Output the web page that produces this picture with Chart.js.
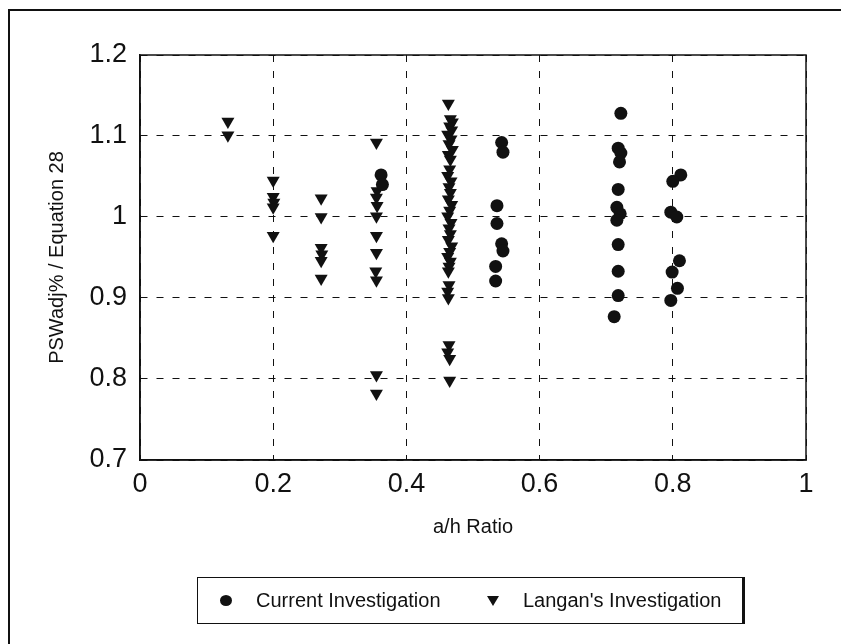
<!DOCTYPE html>
<html>
<head>
<meta charset="utf-8">
<script src="https://cdn.jsdelivr.net/npm/chart.js@4/dist/chart.umd.min.js"></script>
<style>
    body { margin: 0; background: #fff; }
    #quadro { position: relative; width: 841px; height: 644px; overflow: hidden; background: #fff; }
    #moldura { position: absolute; left: 8px; top: 9px; width: 900px; height: 700px; border-left: 2px solid #111; border-top: 2px solid #111; }
    #grafico { position: absolute; left: 0; top: 0; }
    #legenda {
        position: absolute; left: 197px; top: 577px; width: 544px; height: 45px;
        border: 1.5px solid #111; border-right-width: 3px;
        font-family: "Liberation Sans", Arial, sans-serif; font-size: 20px; color: #111;
    }
    .item { position: absolute; top: 0; height: 45px; line-height: 45px; }
    .bola { position: absolute; width: 12px; height: 11px; border-radius: 50%; background: #111; top: 17px; }
    .tri { position: absolute; width: 0; height: 0; top: 18px; border-left: 6px solid transparent; border-right: 6px solid transparent; border-top: 10px solid #111; }
</style>
</head>
<body>
<div id="quadro">
    <div id="moldura"></div>
    <canvas id="grafico" width="841" height="644"></canvas>
    <div id="legenda">
        <div class="bola" style="left: 22px"></div>
        <div class="item" style="left: 58px">Current Investigation</div>
        <div class="tri" style="left: 289px"></div>
        <div class="item" style="left: 325px">Langan's Investigation</div>
    </div>
</div>
<script>
// Pontos da investigação atual (círculos)
const currentX = [0.362, 0.364,
    0.543, 0.545, 0.536, 0.536, 0.543, 0.545, 0.534, 0.534,
    0.722, 0.718, 0.722, 0.720, 0.718, 0.716, 0.721, 0.716, 0.718, 0.718, 0.718, 0.712,
    0.812, 0.800, 0.797, 0.806, 0.810, 0.799, 0.807, 0.797]
const currentY = [1.052, 1.040,
    1.092, 1.080, 1.014, 0.992, 0.967, 0.958, 0.939, 0.921,
    1.128, 1.085, 1.079, 1.068, 1.034, 1.012, 1.004, 0.996, 0.966, 0.933, 0.903, 0.877,
    1.052, 1.044, 1.006, 1.000, 0.946, 0.932, 0.912, 0.897]

// Pontos da investigação de Langan (triângulos)
const langanX = [0.132, 0.132,
    0.200, 0.200, 0.201, 0.200, 0.200,
    0.272, 0.272, 0.272, 0.273, 0.272, 0.272,
    0.355, 0.356, 0.355, 0.356, 0.355, 0.355, 0.355, 0.354, 0.355, 0.355, 0.355,
    0.463, 0.466, 0.469, 0.465, 0.468, 0.462, 0.467, 0.464, 0.469, 0.463, 0.466,
    0.465, 0.462, 0.467, 0.464, 0.466, 0.463, 0.468, 0.465, 0.462, 0.467, 0.464, 0.466, 0.463, 0.468, 0.465, 0.462, 0.466, 0.464, 0.463,
    0.464, 0.462, 0.463,
    0.464, 0.462, 0.465, 0.465]
const langanY = [1.118, 1.101,
    1.045, 1.025, 1.018, 1.012, 0.977,
    1.023, 1.000, 0.962, 0.954, 0.946, 0.924,
    1.092, 1.032, 1.024, 1.014, 1.001, 0.977, 0.956, 0.933, 0.922, 0.805, 0.782,
    1.140, 1.121, 1.117, 1.112, 1.107, 1.102, 1.096, 1.090, 1.083, 1.077, 1.071,
    1.059, 1.051, 1.044, 1.037, 1.030, 1.022, 1.015, 1.008, 1.001, 0.993, 0.986, 0.979, 0.972, 0.964, 0.957, 0.951, 0.945, 0.939, 0.933,
    0.916, 0.908, 0.900,
    0.842, 0.833, 0.825, 0.798]

// Rótulos dos eixos
const xTicks = [0, 0.2, 0.4, 0.6, 0.8, 1]
const yTicks = [0.7, 0.8, 0.9, 1, 1.1, 1.2]
const tituloX = "a/h Ratio"
const tituloY = "PSWadj% / Equation 28"

const fonte = '"Liberation Sans", Arial, sans-serif'

// Junta x e y em objetos para o gráfico de dispersão
function juntaPontos(xs, ys) {
    let pontos = []
    for (let i = 0; i < xs.length; i++) {
        pontos.push({ x: xs[i], y: ys[i] })
    }
    return pontos
}

// Desenha a borda sólida em volta da área do gráfico
const bordaArea = {
    id: 'bordaArea',
    afterDraw(chart) {
        const { ctx, chartArea } = chart
        ctx.save()
        ctx.strokeStyle = '#111'
        ctx.lineWidth = 1.5
        ctx.strokeRect(chartArea.left, chartArea.top, chartArea.right - chartArea.left, chartArea.bottom - chartArea.top)
        ctx.restore()
    }
}

const config = {
    type: 'scatter',
    data: {
        datasets: [{
            label: 'Current Investigation',
            data: juntaPontos(currentX, currentY),
            pointStyle: 'circle',
            pointRadius: 6.5,
            backgroundColor: '#111',
            borderColor: '#111',
            borderWidth: 0
        }, {
            label: "Langan's Investigation",
            data: juntaPontos(langanX, langanY),
            pointStyle: 'triangle',
            rotation: 180,
            pointRadius: 7.5,
            backgroundColor: '#111',
            borderColor: '#111',
            borderWidth: 0
        }]
    },
    options: {
        responsive: false,
        animation: false,
        devicePixelRatio: 1,
        layout: { padding: { top: 55, right: 35, bottom: 100, left: 0 } },
        plugins: {
            legend: { display: false },
            tooltip: { enabled: false }
        },
        scales: {
            x: {
                type: 'linear',
                min: xTicks[0],
                max: xTicks[xTicks.length - 1],
                afterBuildTicks: (scale) => { scale.ticks = xTicks.map(v => ({ value: v })) },
                afterFit: (scale) => { scale.height = 84 },
                ticks: {
                    color: '#111',
                    padding: 8,
                    font: { family: fonte, size: 27 },
                    callback: (v) => String(+v.toFixed(1))
                },
                grid: { color: '#111', lineWidth: 1, drawTicks: false },
                border: { color: '#111', width: 1.5, dash: [7, 9] },
                title: {
                    display: true,
                    text: tituloX,
                    color: '#111',
                    font: { family: fonte, size: 20 },
                    padding: { top: 0, bottom: 5 }
                }
            },
            y: {
                type: 'linear',
                min: yTicks[0],
                max: yTicks[yTicks.length - 1],
                afterBuildTicks: (scale) => { scale.ticks = yTicks.map(v => ({ value: v })) },
                afterFit: (scale) => { scale.width = 140 },
                ticks: {
                    color: '#111',
                    padding: 13,
                    font: { family: fonte, size: 27 },
                    callback: (v) => String(+v.toFixed(1))
                },
                grid: { color: '#111', lineWidth: 1, drawTicks: false },
                border: { color: '#111', width: 1.5, dash: [7, 9] },
                title: {
                    display: true,
                    text: tituloY,
                    color: '#111',
                    font: { family: fonte, size: 20 },
                    padding: { top: 45, bottom: 0 }
                }
            }
        }
    },
    plugins: [bordaArea]
}

const ctx = document.getElementById('grafico').getContext('2d')
new Chart(ctx, config)
</script>
</body>
</html>
